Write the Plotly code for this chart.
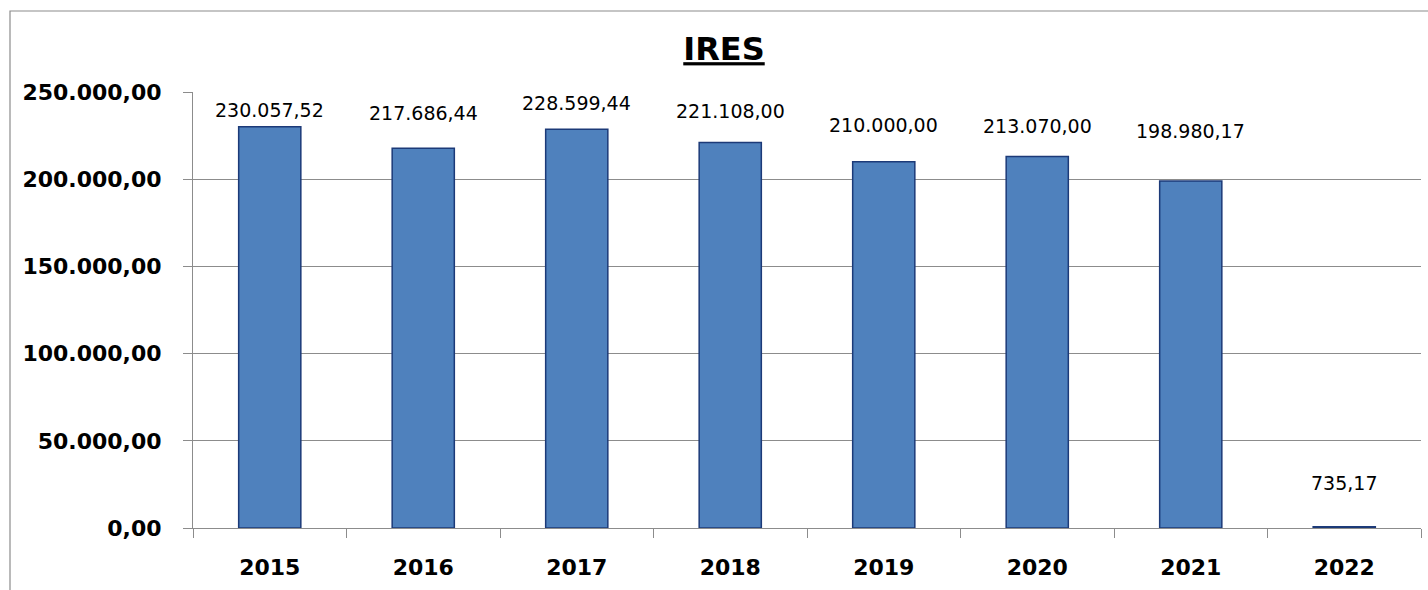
import plotly.graph_objects as go

years = ["2015", "2016", "2017", "2018", "2019", "2020", "2021", "2022"]
values = [230057.52, 217686.44, 228599.44, 221108.00, 210000.00, 213070.00, 198980.17, 735.17]
y_ticks = [0, 50000, 100000, 150000, 200000, 250000]
label_shift = [17, 35, 26, 31, 37, 30, 50, 44]  # px above bar top (label centre)
title_text = "IRES"


def it_fmt(v):
    s = f"{v:,.2f}"
    return s.replace(",", "X").replace(".", ",").replace("X", ".")


W, H = 1428, 590
ML, MR, MT, MB = 193, 7, 92, 62
PW, PH = W - ML - MR, H - MT - MB

FONT = "DejaVu Sans"
GRID = "#8c8c8c"

fig = go.Figure()
fig.add_trace(go.Bar(
    x=years, y=values,
    marker=dict(color="#4f81bd", line=dict(color="#1c3a78", width=1.5)),
    width=0.405,
    hoverinfo="x+y",
))

for i, (v, sh) in enumerate(zip(values, label_shift)):
    fig.add_annotation(
        x=i, y=v, xref="x", yref="y",
        text=it_fmt(v), showarrow=False,
        yshift=sh, yanchor="middle", xanchor="center",
        font=dict(family=FONT, size=19, color="#000000"),
    )

# chart outer border (extends past right and bottom edges)
fig.add_shape(
    type="rect", xref="paper", yref="paper",
    x0=(10 - ML) / PW, x1=(W + 20 - ML) / PW,
    y0=-(MB + 20) / PH, y1=(H - MB - 11) / PH,
    line=dict(color="#8c8c8c", width=1.2), fillcolor="rgba(0,0,0,0)", layer="below",
)

fig.update_layout(
    width=W, height=H,
    margin=dict(l=ML, r=MR, t=MT, b=MB, pad=0),
    paper_bgcolor="white", plot_bgcolor="white",
    showlegend=False,
    title=dict(
        text=f"<b>{title_text}</b>", xref="container", yref="container",
        x=724 / W, y=1 - 49 / H, xanchor="center", yanchor="middle",
        font=dict(family=FONT, size=32, color="#000000", lineposition="under"),
    ),
    xaxis=dict(
        type="category", range=[-0.5, len(years) - 0.5], autorange=False,
        tickson="boundaries", ticks="outside", ticklen=9,
        tickcolor=GRID, tickwidth=1, showline=True, linecolor=GRID, linewidth=1,
        showgrid=False, ticklabelstandoff=20, tickangle=0,
        tickfont=dict(family=FONT, size=22, color="#000000", weight="bold"),
    ),
    yaxis=dict(
        range=[0, 250000], autorange=False, tickvals=y_ticks,
        ticktext=[it_fmt(t) for t in y_ticks],
        ticks="outside", ticklen=9, tickcolor=GRID, tickwidth=1,
        showline=True, linecolor=GRID, linewidth=1,
        showgrid=True, gridcolor=GRID, gridwidth=1, zeroline=False,
        ticklabelstandoff=17,
        tickfont=dict(family=FONT, size=22, color="#000000", weight="bold"),
    ),
)

fig.write_html(
    "out.html",
    config={"displayModeBar": False},
    post_script="document.body.style.margin='0';document.body.style.padding='0';",
)
